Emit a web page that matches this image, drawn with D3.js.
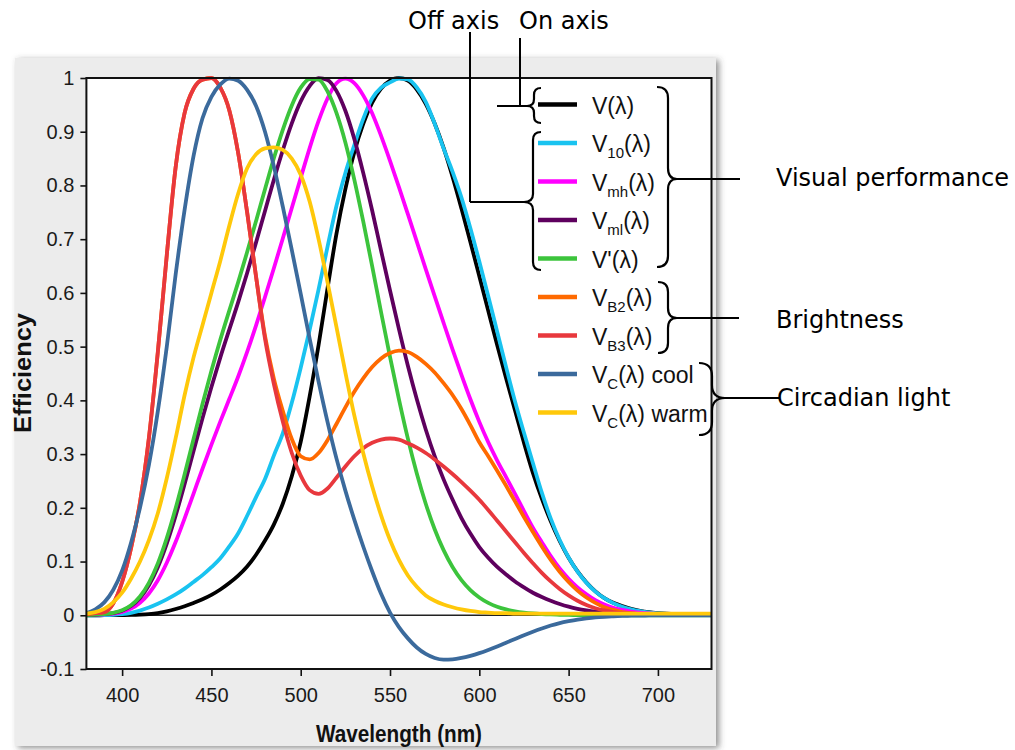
<!DOCTYPE html>
<html><head><meta charset="utf-8">
<script src="https://cdn.jsdelivr.net/npm/d3@7"></script>
<style>body{margin:0;background:#fff;} svg{display:block;}</style>
</head><body>
<svg id="chart" width="1015" height="750"></svg>
<script>
// ---------------- DATA ----------------
const wavelengths = [380,385,390,395,400,405,410,415,420,425,430,435,440,445,450,455,460,465,470,475,480,485,490,495,500,505,510,515,520,525,530,535,540,545,550,555,560,565,570,575,580,585,590,595,600,605,610,615,620,625,630,635,640,645,650,655,660,665,670,675,680,685,690,695,700,705,710,715,720,725,730];

const vPhotopic = [0.000039,0.000064,0.00012,0.000217,0.000396,0.00064,0.00121,0.00218,0.004,0.0073,0.0116,0.01684,0.023,0.0298,0.038,0.048,0.06,0.0739,0.09098,0.1126,0.13902,0.1693,0.20802,0.2586,0.323,0.4073,0.503,0.6082,0.71,0.7932,0.862,0.91485,0.954,0.9803,0.99495,1.0,0.995,0.9786,0.952,0.9154,0.87,0.8163,0.757,0.6949,0.631,0.5668,0.503,0.4412,0.381,0.321,0.265,0.217,0.175,0.1382,0.107,0.0816,0.061,0.04458,0.032,0.0232,0.017,0.01192,0.00821,0.005723,0.004102,0.002929,0.002091,0.001484,0.001047,0.00074,0.00052];

const v10 = [0.00002,0.000074,0.000253,0.00077,0.002044,0.004494,0.008756,0.01437,0.021391,0.029497,0.038676,0.049602,0.062077,0.074704,0.089456,0.106256,0.128201,0.152761,0.18519,0.21994,0.253589,0.297665,0.339133,0.395379,0.460777,0.53136,0.606741,0.68566,0.761757,0.82333,0.875211,0.92381,0.961988,0.9822,0.991761,0.99911,0.99734,0.98238,0.955552,0.915175,0.868934,0.825623,0.777405,0.720353,0.658341,0.593878,0.527963,0.461834,0.398057,0.339554,0.283493,0.228254,0.179828,0.140211,0.107633,0.081187,0.060281,0.044096,0.0318,0.022602,0.015905,0.01113,0.007749,0.005375,0.003718,0.002565,0.001768,0.001222,0.000846,0.000586,0.000407];

const vmh = [0.0004,0.0008,0.0015,0.0031,0.0063,0.0124,0.0234,0.0406,0.0652,0.0977,0.1367,0.1805,0.2266,0.2727,0.3175,0.3608,0.4024,0.4445,0.4902,0.5396,0.5923,0.6464,0.7017,0.7581,0.8141,0.8696,0.9201,0.9619,0.9902,0.9987,0.9904,0.9677,0.9344,0.8923,0.8459,0.797,0.7465,0.6954,0.6444,0.5939,0.5441,0.495,0.4474,0.402,0.36,0.322,0.288,0.257,0.226,0.194,0.163,0.136,0.11,0.087,0.068,0.052,0.039,0.028,0.02,0.014,0.01,0.007,0.005,0.0035,0.0025,0.0018,0.0013,0.0009,0.0006,0.0004,0.0003];

const vml = [0.0005,0.001,0.0021,0.0042,0.0086,0.0172,0.0323,0.056,0.0896,0.1334,0.1858,0.2444,0.3058,0.3667,0.425,0.4801,0.5317,0.5828,0.6371,0.694,0.7526,0.811,0.866,0.9157,0.9565,0.985,0.9996,0.9964,0.9761,0.939,0.8867,0.8234,0.7534,0.6785,0.6045,0.5325,0.4643,0.4019,0.3458,0.2962,0.2529,0.2154,0.181,0.152,0.127,0.107,0.09,0.076,0.063,0.052,0.042,0.034,0.027,0.021,0.016,0.012,0.009,0.0066,0.0048,0.0035,0.0026,0.0019,0.0014,0.001,0.0007,0.0005,0.0003,0.0002,0.0002,0.0001,0.0001];

const vScotopic = [0.000589,0.001108,0.002209,0.00453,0.00929,0.01852,0.03484,0.0604,0.0966,0.1436,0.1998,0.2625,0.3281,0.3931,0.455,0.513,0.567,0.62,0.676,0.734,0.793,0.851,0.904,0.949,0.982,0.998,0.997,0.975,0.935,0.88,0.811,0.733,0.65,0.564,0.481,0.402,0.3288,0.2639,0.2076,0.1602,0.1212,0.0899,0.0655,0.0469,0.03315,0.02312,0.01593,0.01088,0.00737,0.00497,0.003335,0.002235,0.001497,0.001005,0.000677,0.000459,0.000313,0.000215,0.000148,0.000103,0.000072,0.00005,0.000035,0.000025,0.000018,0.000013,0.000009,0.000007,0.000005,0.000004,0.000003];

const vb2 = [0.002,0.004,0.006,0.022,0.062,0.125,0.21,0.33,0.49,0.67,0.835,0.935,0.98,0.997,1.0,0.982,0.94,0.86,0.75,0.63,0.52,0.44,0.38,0.328,0.296,0.29,0.302,0.326,0.356,0.387,0.416,0.441,0.462,0.478,0.488,0.4925,0.49,0.481,0.468,0.452,0.432,0.41,0.384,0.354,0.322,0.296,0.269,0.241,0.212,0.183,0.155,0.128,0.103,0.081,0.062,0.046,0.033,0.023,0.015,0.01,0.006,0.004,0.002,0.001,0.0007,0.0005,0.0003,0.0002,0.0001,0.0001,0.0001];

const vb3 = [0.002,0.004,0.006,0.022,0.062,0.125,0.21,0.33,0.49,0.67,0.835,0.935,0.98,0.997,1.0,0.982,0.94,0.86,0.75,0.63,0.515,0.43,0.36,0.302,0.26,0.233,0.226,0.236,0.256,0.277,0.296,0.311,0.321,0.327,0.329,0.327,0.32,0.312,0.302,0.29,0.277,0.263,0.248,0.232,0.215,0.196,0.176,0.156,0.136,0.116,0.097,0.079,0.063,0.049,0.037,0.027,0.019,0.013,0.009,0.006,0.004,0.003,0.002,0.001,0.0007,0.0005,0.0003,0.0002,0.0001,0.0001,0.0001];

const vcCool = [0.004,0.011,0.024,0.047,0.083,0.135,0.2,0.28,0.38,0.5,0.635,0.755,0.855,0.925,0.965,0.988,0.999,0.995,0.978,0.948,0.9,0.835,0.76,0.68,0.598,0.515,0.435,0.36,0.292,0.232,0.178,0.128,0.082,0.04,0.005,-0.022,-0.043,-0.06,-0.072,-0.0795,-0.0825,-0.082,-0.0795,-0.0755,-0.0705,-0.0645,-0.058,-0.051,-0.044,-0.037,-0.0305,-0.0245,-0.019,-0.0145,-0.011,-0.008,-0.0058,-0.004,-0.0028,-0.0019,-0.0012,-0.0008,-0.0005,-0.0003,-0.0002,-0.0001,-0.0001,0,0,0,0];

const vcWarm = [0.003,0.006,0.012,0.024,0.042,0.068,0.1,0.14,0.19,0.255,0.33,0.41,0.48,0.54,0.6,0.66,0.725,0.785,0.832,0.858,0.869,0.871,0.866,0.85,0.82,0.77,0.7,0.62,0.537,0.452,0.372,0.302,0.24,0.186,0.14,0.103,0.074,0.053,0.037,0.027,0.02,0.015,0.011,0.008,0.006,0.005,0.004,0.004,0.003,0.003,0.003,0.003,0.003,0.003,0.003,0.003,0.003,0.003,0.003,0.003,0.003,0.003,0.003,0.003,0.003,0.003,0.003,0.003,0.003,0.003,0.003];

const seriesList = [vPhotopic, v10, vmh, vml, vScotopic, vb2, vb3, vcCool, vcWarm];
const legendMain = ["V","V","V","V","V'","V","V","V","V"];
const legendSub  = ["","10","mh","ml","","B2","B3","C","C"];
const legendTail = ["(λ)","(λ)","(λ)","(λ)","(λ)","(λ)","(λ)","(λ) cool","(λ) warm"];

const xTicks = [400,450,500,550,600,650,700];
const yTicks = [-0.1,0,0.1,0.2,0.3,0.4,0.5,0.6,0.7,0.8,0.9,1];
const yTickLabels = ["-0.1","0","0.1","0.2","0.3","0.4","0.5","0.6","0.7","0.8","0.9","1"];

const xTitle = "Wavelength (nm)";
const yTitle = "Efficiency";
const annotations = ["Off axis","On axis","Visual performance","Brightness","Circadian light"];

// ---------------- STYLE ----------------
const colors = ["#000000","#19c3f0","#ff00ff","#5e005e","#3cc43c","#ff6a00","#e8383d","#3b6a9c","#ffc80a"];
const sansFont = "'Liberation Sans', Arial, sans-serif";
const annFont = "'DejaVu Sans', Verdana, sans-serif";

const svg = d3.select("#chart");
const defs = svg.append("defs");
const f = defs.append("filter").attr("id","sh").attr("x","-5%").attr("y","-5%").attr("width","115%").attr("height","115%");
f.append("feDropShadow").attr("dx",3).attr("dy",2).attr("stdDeviation",3).attr("flood-color","#444").attr("flood-opacity",0.6);

// grey panel
svg.append("rect").attr("x",15).attr("y",58).attr("width",701).attr("height",688)
  .attr("fill","#ececec").attr("filter","url(#sh)");

const x = d3.scaleLinear().domain([380,730]).range([86.4,711.5]);
const y = d3.scaleLinear().domain([-0.1,1]).range([669,78]);

// plot bg
svg.append("rect").attr("x",x(380)).attr("y",y(1)).attr("width",x(730)-x(380)).attr("height",y(-0.1)-y(1)).attr("fill","#fff");

defs.append("clipPath").attr("id","clip").append("rect")
  .attr("x",x(380)).attr("y",y(1)-4).attr("width",x(730)-x(380)).attr("height",y(-0.1)-y(1)+4);

// zero line
svg.append("line").attr("x1",x(380)).attr("x2",x(730)).attr("y1",y(0)).attr("y2",y(0))
  .attr("stroke","#222").attr("stroke-width",1.6);

const line = d3.line().x((d,i)=>x(wavelengths[i])).y(d=>y(d)).curve(d3.curveMonotoneX);
const gLines = svg.append("g").attr("clip-path","url(#clip)");
seriesList.forEach((s,i)=>{
  gLines.append("path").attr("d",line(s)).attr("fill","none")
    .attr("stroke",colors[i]).attr("stroke-width",3.8).attr("stroke-linejoin","round");
});

// frame
svg.append("rect").attr("x",x(380)).attr("y",y(1)).attr("width",x(730)-x(380)).attr("height",y(-0.1)-y(1))
  .attr("fill","none").attr("stroke","#111").attr("stroke-width",2);

// axes
const ya = svg.append("g").attr("transform",`translate(${x(380)},0)`)
  .call(d3.axisLeft(y).tickValues(yTicks).tickFormat((d,i)=>yTickLabels[i]).tickSize(6).tickPadding(6));
const xa = svg.append("g").attr("transform",`translate(0,${y(-0.1)})`)
  .call(d3.axisBottom(x).tickValues(xTicks).tickFormat(d=>String(d)).tickSize(7).tickPadding(12));
[ya,xa].forEach(g=>{
  g.select(".domain").remove();
  g.selectAll(".tick line").attr("stroke","#111").attr("stroke-width",1.6);
  g.selectAll(".tick text").attr("font-family",sansFont).attr("font-size",20).attr("fill","#1a1a1a");
});

svg.append("text").attr("x",399).attr("y",742).attr("text-anchor","middle")
  .attr("font-family",sansFont).attr("font-weight","bold").attr("font-size",23)
  .attr("textLength",166).attr("lengthAdjust","spacingAndGlyphs").attr("fill","#111").text(xTitle);
svg.append("text").attr("transform","translate(31,373) rotate(-90)").attr("text-anchor","middle")
  .attr("font-family",sansFont).attr("font-weight","bold").attr("font-size",23)
  .attr("textLength",120).attr("lengthAdjust","spacingAndGlyphs").attr("fill","#111").text(yTitle);

// legend
const legY0 = 104.5, legStep = 38.5;
seriesList.forEach((s,i)=>{
  const ly = legY0 + i*legStep;
  svg.append("line").attr("x1",538).attr("x2",577).attr("y1",ly).attr("y2",ly)
    .attr("stroke",colors[i]).attr("stroke-width",4.5);
  const t = svg.append("text").attr("x",592).attr("y",ly+9)
    .attr("font-family",sansFont).attr("font-size",23).attr("fill","#111");
  t.append("tspan").text(legendMain[i]);
  if (legendSub[i]) {
    t.append("tspan").attr("font-size",15).attr("dy",6).text(legendSub[i]);
    t.append("tspan").attr("dy",-6).text(legendTail[i]);
  } else {
    t.append("tspan").text(legendTail[i]);
  }
});

// braces
function braceRight(xh, xs, xt, y0, y1, ym) {
  const r = Math.abs(xs - xh);
  return `M${xh},${y0} Q${xs},${y0} ${xs},${y0+r} L${xs},${ym-r} Q${xs},${ym} ${xt},${ym} Q${xs},${ym} ${xs},${ym+r} L${xs},${y1-r} Q${xs},${y1} ${xh},${y1}`;
}
const braceStyle = p => p.attr("fill","none").attr("stroke","#000").attr("stroke-width",2.2);
svg.append("path").attr("d",braceRight(541,534,527,88,123,106)).call(braceStyle);
svg.append("path").attr("d",braceRight(541,533,524,132,270,202)).call(braceStyle);
svg.append("path").attr("d",braceRight(657,668,677,87,267,179)).call(braceStyle);
svg.append("path").attr("d",braceRight(658,668,677,282,353,318)).call(braceStyle);
svg.append("path").attr("d",braceRight(699,712,725,363,435,398)).call(braceStyle);

// connector lines
const conn = [[520,38,520,106],[497,106,527,106],[470,32,470,202],[470,202,524,202],[677,179,740,179],[677,318,739,318],[725,398,780,398]];
conn.forEach(c=>{
  svg.append("line").attr("x1",c[0]).attr("y1",c[1]).attr("x2",c[2]).attr("y2",c[3])
    .attr("stroke","#000").attr("stroke-width",2);
});

// annotations
const annPos = [[408,29],[519,29],[776,186],[776,328],[777,406]];
annotations.forEach((a,i)=>{
  svg.append("text").attr("x",annPos[i][0]).attr("y",annPos[i][1])
    .attr("font-family",annFont).attr("font-size",24).attr("fill","#000").text(a);
});
</script></body></html>
